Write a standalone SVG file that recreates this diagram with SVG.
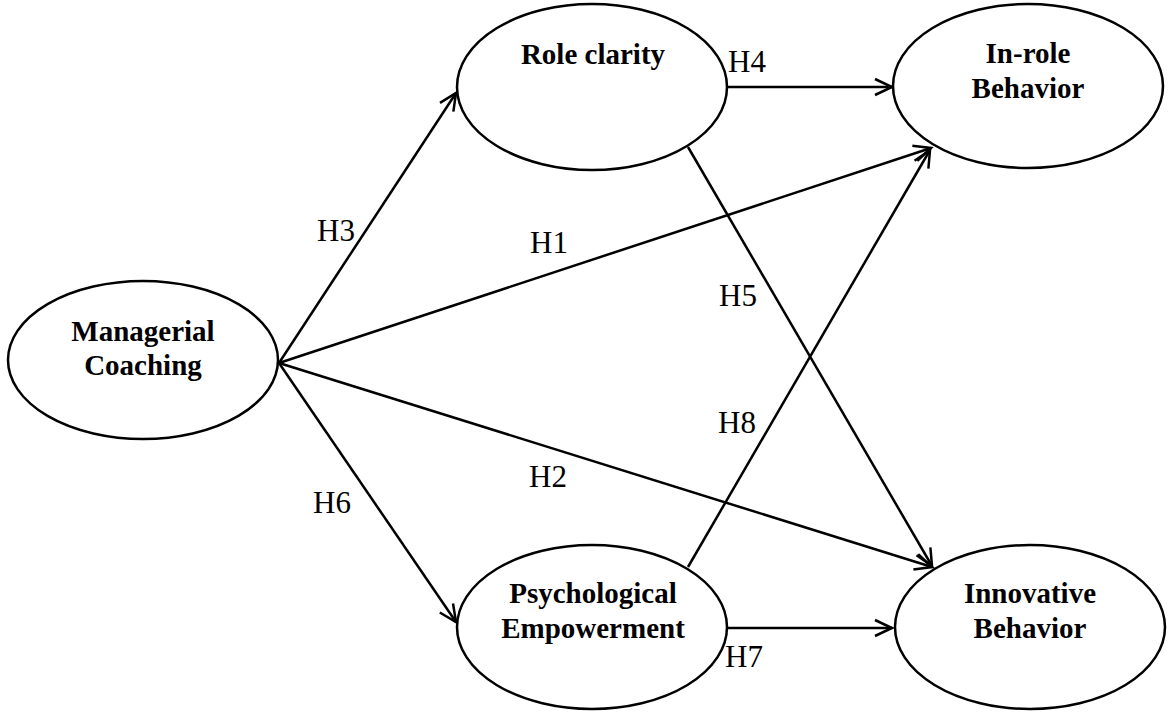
<svg xmlns="http://www.w3.org/2000/svg" width="1171" height="715" viewBox="0 0 1171 715">
<style>
.node{fill:#fff;stroke:#000;stroke-width:2.5}
.nt{font-family:"Liberation Serif","Times New Roman",serif;font-weight:bold;font-size:29px;text-anchor:middle;fill:#000}
.lbl{font-family:"Liberation Serif","Times New Roman",serif;font-size:31px;fill:#000}
.edge{stroke:#000;stroke-width:2.5;fill:none;marker-end:url(#arr)}
</style>
<defs>
<marker id="arr" markerUnits="userSpaceOnUse" markerWidth="24" markerHeight="20" viewBox="-20 -10 24 20" refX="0" refY="0" orient="auto">
<path d="M-17,-8 L0,0 L-17,8" fill="none" stroke="#000" stroke-width="2.5"/>
</marker>
</defs>
<rect width="1171" height="715" fill="#fff"/>
<g id="connectors">
<line class="edge" x1="279" y1="363" x2="456" y2="93"/>
<line class="edge" x1="279" y1="363" x2="931" y2="148"/>
<line class="edge" x1="279" y1="363" x2="932" y2="567"/>
<line class="edge" x1="279" y1="363" x2="456" y2="622"/>
<line class="edge" x1="727" y1="87" x2="892" y2="87"/>
<line class="edge" x1="688" y1="147" x2="932" y2="566"/>
<line class="edge" x1="688" y1="567" x2="930" y2="150"/>
<line class="edge" x1="727" y1="628" x2="892" y2="628"/>
</g>
<g id="labels">
<text class="lbl" x="317" y="241">H3</text>
<text class="lbl" x="530" y="253">H1</text>
<text class="lbl" x="529" y="487">H2</text>
<text class="lbl" x="728" y="72">H4</text>
<text class="lbl" x="719" y="306">H5</text>
<text class="lbl" x="313" y="513">H6</text>
<text class="lbl" x="725" y="667">H7</text>
<text class="lbl" x="718" y="433">H8</text>
</g>
<g id="managerial-coaching">
<ellipse class="node" cx="143" cy="360" rx="135" ry="79"/>
<text class="nt" x="143" y="341">Managerial</text>
<text class="nt" x="143" y="375">Coaching</text>
</g>
<g id="role-clarity">
<ellipse class="node" cx="592" cy="87" rx="135" ry="83"/>
<text class="nt" x="593" y="64">Role clarity</text>
</g>
<g id="in-role-behavior">
<ellipse class="node" cx="1028" cy="86" rx="135" ry="82"/>
<text class="nt" x="1028" y="63">In-role</text>
<text class="nt" x="1028" y="98">Behavior</text>
</g>
<g id="psychological-empowerment">
<ellipse class="node" cx="592" cy="627" rx="135" ry="82"/>
<text class="nt" x="593" y="603">Psychological</text>
<text class="nt" x="593" y="638">Empowerment</text>
</g>
<g id="innovative-behavior">
<ellipse class="node" cx="1030" cy="627" rx="135" ry="82"/>
<text class="nt" x="1030" y="603">Innovative</text>
<text class="nt" x="1030" y="638">Behavior</text>
</g>
</svg>
